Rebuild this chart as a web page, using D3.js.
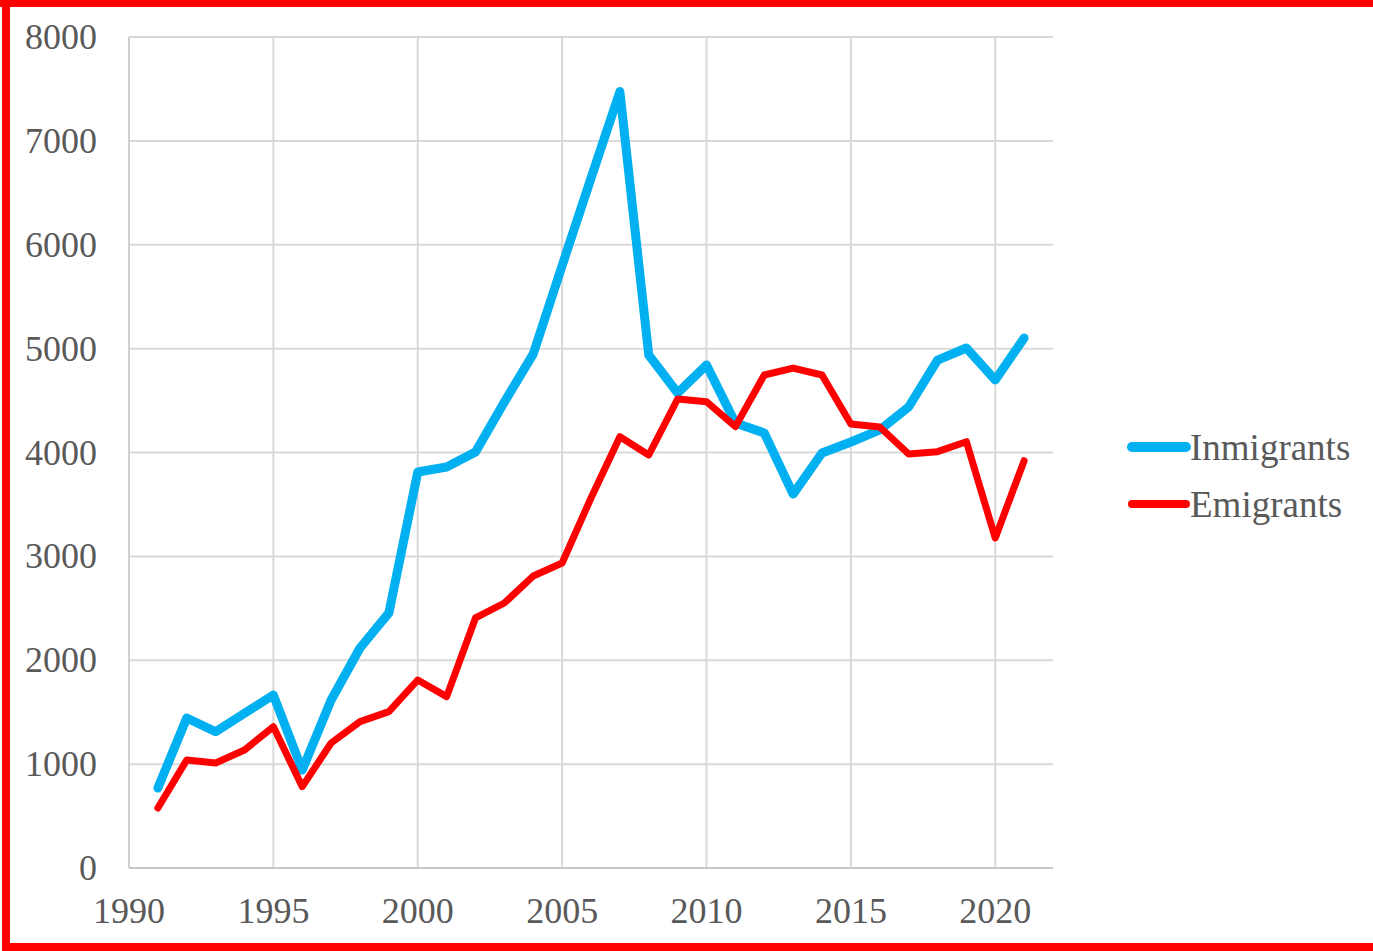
<!DOCTYPE html>
<html>
<head>
<meta charset="utf-8">
<script src="https://cdn.jsdelivr.net/npm/d3@7"></script>
<style>
  html, body { margin: 0; padding: 0; background: #fff; }
  svg { display: block; }
  text { font-family: "Liberation Serif", "Times New Roman", serif; fill: #595959; }
</style>
</head>
<body>
<svg id="chart" width="1373" height="951"></svg>
<script>
const years = d3.range(1991, 2022);
const inmigrants = [770, 1444, 1312, 1490, 1665, 943, 1617, 2118, 2455, 3812,
  3860, 4005, 4486, 4950, 5800, 6640, 7474, 4939, 4573, 4842,
  4284, 4188, 3600, 3995, 4101, 4217, 4438, 4890, 5006, 4698, 5102];
const emigrants = [578, 1040, 1011, 1136, 1360, 783, 1203, 1409, 1505, 1810,
  1650, 2407, 2551, 2811, 2936, 3562, 4152, 3976, 4515, 4489,
  4249, 4746, 4813, 4746, 4274, 4245, 3986, 4008, 4104, 3177, 3921];
const xTicks = [1990, 1995, 2000, 2005, 2010, 2015, 2020];
const yTicks = [0, 1000, 2000, 3000, 4000, 5000, 6000, 7000, 8000];
const series = [
  {name: "Inmigrants", values: inmigrants, color: "#00B0F0", width: 9},
  {name: "Emigrants", values: emigrants, color: "#FF0000", width: 7}
];

const margin = {top: 37, right: 320, bottom: 83, left: 129};
const width = 1373, height = 951;

const svg = d3.select("#chart");

const x = d3.scaleLinear()
  .domain([1990, 2022])
  .range([margin.left, width - margin.right]);
const y = d3.scaleLinear()
  .domain([0, 8000])
  .range([height - margin.bottom, margin.top]);

// grid
const grid = svg.append("g");
grid.selectAll(".hgrid")
  .data(yTicks.filter(d => d > 0))
  .join("line")
  .attr("x1", x(1990)).attr("x2", x(2022))
  .attr("y1", d => y(d)).attr("y2", d => y(d))
  .attr("stroke", "#d9d9d9").attr("stroke-width", 2);
grid.selectAll(".vgrid")
  .data(xTicks.filter(d => d > 1990))
  .join("line")
  .attr("x1", d => x(d)).attr("x2", d => x(d))
  .attr("y1", y(0)).attr("y2", y(8000))
  .attr("stroke", "#d9d9d9").attr("stroke-width", 2);

// axis lines
svg.append("line")
  .attr("x1", x(1990)).attr("x2", x(1990))
  .attr("y1", y(0)).attr("y2", y(8000))
  .attr("stroke", "#cfcfcf").attr("stroke-width", 2);
svg.append("line")
  .attr("x1", x(1990)).attr("x2", x(2022))
  .attr("y1", y(0)).attr("y2", y(0))
  .attr("stroke", "#c8c8c8").attr("stroke-width", 2);

// tick labels
svg.append("g").selectAll("text")
  .data(yTicks)
  .join("text")
  .attr("x", 97)
  .attr("y", d => y(d) + 12)
  .attr("text-anchor", "end")
  .attr("font-size", 36)
  .text(d => d);
svg.append("g").selectAll("text")
  .data(xTicks)
  .join("text")
  .attr("x", d => x(d))
  .attr("y", 923)
  .attr("text-anchor", "middle")
  .attr("font-size", 36)
  .text(d => d);

// lines
const line = d3.line()
  .x((d, i) => x(years[i]))
  .y(d => y(d));

svg.append("g").selectAll("path")
  .data(series)
  .join("path")
  .attr("d", d => line(d.values))
  .attr("fill", "none")
  .attr("stroke", d => d.color)
  .attr("stroke-width", d => d.width)
  .attr("stroke-linejoin", "round")
  .attr("stroke-linecap", "round");

// legend
const legend = svg.append("g").selectAll("g")
  .data(series)
  .join("g")
  .attr("transform", (d, i) => `translate(1132, ${447 + i * 57})`);
legend.append("line")
  .attr("x1", 0).attr("x2", 54)
  .attr("stroke", d => d.color)
  .attr("stroke-width", d => d.width + 1)
  .attr("stroke-linecap", "round");
legend.append("text")
  .attr("x", 58)
  .attr("y", 13)
  .attr("font-size", 37)
  .text(d => d.name);

// red frame
const frame = svg.append("g").attr("fill", "#FF0000");
frame.append("rect").attr("x", 0).attr("y", 0).attr("width", width).attr("height", 7);
frame.append("rect").attr("x", 2).attr("y", 0).attr("width", 8).attr("height", height);
frame.append("rect").attr("x", 2).attr("y", 943).attr("width", width).attr("height", 8);
</script>
</body>
</html>
